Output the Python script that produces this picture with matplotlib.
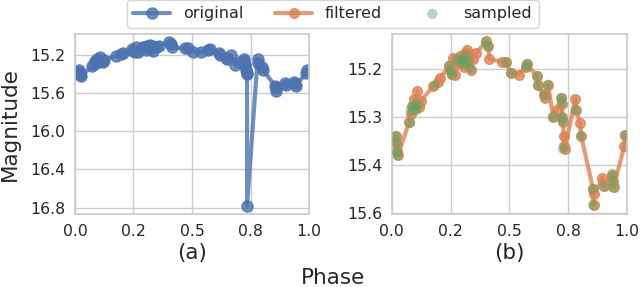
import matplotlib
matplotlib.use("Agg")
import matplotlib.pyplot as plt
import seaborn as sns
import numpy as np

sns.set_theme(style="whitegrid")
plt.rcParams["font.family"] = ["DejaVu Sans"]

# filtered light curve (phase-folded)
phase_filt = [0.015, 0.018, 0.020, 0.022, 0.026, 0.075, 0.080, 0.085, 0.090, 0.095,
              0.100, 0.105, 0.108, 0.112, 0.118, 0.125, 0.175, 0.195, 0.205, 0.245,
              0.250, 0.255, 0.262, 0.270, 0.285, 0.290, 0.300, 0.305, 0.310, 0.315,
              0.320, 0.325, 0.330, 0.335, 0.345, 0.360, 0.400, 0.410, 0.415, 0.470,
              0.485, 0.505, 0.540, 0.570, 0.575, 0.615, 0.620, 0.645, 0.650, 0.665,
              0.685, 0.700, 0.720, 0.722, 0.725, 0.728, 0.730, 0.733, 0.735, 0.780,
              0.783, 0.800, 0.805, 0.855, 0.857, 0.860, 0.895, 0.900, 0.935, 0.940,
              0.942, 0.988, 0.990]
mag_filt = [15.375, 15.360, 15.385, 15.405, 15.420, 15.315, 15.290, 15.265, 15.280, 15.245,
            15.270, 15.255, 15.218, 15.260, 15.270, 15.250, 15.205, 15.190, 15.180, 15.140,
            15.155, 15.165, 15.115, 15.170, 15.130, 15.110, 15.120, 15.145, 15.100, 15.125,
            15.090, 15.130, 15.105, 15.155, 15.120, 15.100, 15.065, 15.080, 15.120, 15.128,
            15.130, 15.162, 15.168, 15.145, 15.135, 15.173, 15.200, 15.230, 15.240, 15.200,
            15.300, 15.277, 15.240, 15.260, 15.300, 15.315, 15.360, 15.390, 15.400, 15.243,
            15.280, 15.320, 15.360, 15.525, 15.575, 15.540, 15.490, 15.515, 15.480, 15.500,
            15.520, 15.390, 15.358]

# original curve = filtered + one outlier
outlier_phase = 0.735
outlier_mag = 16.78

# sampled points
phase_samp = [0.018, 0.020, 0.022, 0.026, 0.078, 0.080, 0.090, 0.100, 0.105, 0.110,
              0.183, 0.245, 0.250, 0.255, 0.280, 0.290, 0.300, 0.310, 0.315, 0.325,
              0.335, 0.400, 0.410, 0.487, 0.508, 0.572, 0.575, 0.619, 0.621, 0.648,
              0.664, 0.685, 0.723, 0.723, 0.724, 0.725, 0.727, 0.781, 0.805, 0.854,
              0.855, 0.900, 0.937, 0.940, 0.940, 0.990]
mag_samp = [15.360, 15.380, 15.410, 15.420, 15.319, 15.280, 15.270, 15.265, 15.280, 15.260,
            15.202, 15.140, 15.160, 15.170, 15.120, 15.130, 15.120, 15.135, 15.110, 15.125,
            15.150, 15.067, 15.080, 15.131, 15.163, 15.144, 15.135, 15.173, 15.202, 15.235,
            15.200, 15.300, 15.241, 15.255, 15.303, 15.312, 15.400, 15.279, 15.360, 15.525,
            15.574, 15.517, 15.477, 15.500, 15.520, 15.358]

x_ticks = [0.0, 0.25, 0.5, 0.75, 1.0]
x_labels = ["0.0", "0.2", "0.5", "0.8", "1.0"]
y_ticks_a = [15.2, 15.6, 16.0, 16.4, 16.8]
y_labels_a = ["15.2", "15.6", "16.0", "16.4", "16.8"]
y_ticks_b = [15.15, 15.30, 15.45, 15.60]
y_labels_b = ["15.2", "15.3", "15.4", "15.6"]

blue, orange, green = "#4C72B0", "#DD8452", "#55A868"

# build original series with the outlier inserted in phase order
idx = int(np.searchsorted(phase_filt, outlier_phase, side="right"))
phase_orig = phase_filt[:idx] + [outlier_phase] + phase_filt[idx:]
mag_orig = mag_filt[:idx] + [outlier_mag] + mag_filt[idx:]

fig = plt.figure(figsize=(6.4, 2.87), dpi=100)
ax1 = fig.add_axes([0.117, 0.254, 0.366, 0.626])
ax2 = fig.add_axes([0.612, 0.254, 0.368, 0.626])

l1, = ax1.plot(phase_orig, mag_orig, "o-", color=blue, lw=3, ms=8, alpha=0.8, label="original")
l2, = ax2.plot(phase_filt, mag_filt, "o-", color=orange, lw=3, ms=7, alpha=0.8, label="filtered")
s3 = ax2.scatter(phase_samp, mag_samp, s=55, color=green, alpha=0.45, edgecolors="none",
                 label="sampled", zorder=3)

ax1.set_ylim(16.868, 14.983)
ax2.set_ylim(15.603, 15.043)

for ax, yt, yl, lab in [(ax1, y_ticks_a, y_labels_a, "(a)"), (ax2, y_ticks_b, y_labels_b, "(b)")]:
    ax.set_xlim(0, 1)
    ax.set_xticks(x_ticks)
    ax.set_xticklabels(x_labels)
    ax.set_yticks(yt)
    ax.set_yticklabels(yl)
    ax.tick_params(labelsize=11.3, length=0, pad=7, colors="0.15")
    ax.set_xlabel(lab, fontsize=15.5, labelpad=3, color="0.15")
    for sp in ax.spines.values():
        sp.set_color("0.8")
        sp.set_linewidth(1.25)
    ax.grid(True, color="0.8", lw=1)

ax1.set_ylabel("Magnitude", fontsize=15.5, color="0.15")
ax1.yaxis.set_label_coords(-0.235, 0.5)

fig.text(0.52, 0.031, "Phase", ha="center", va="center", fontsize=15.5, color="0.15")

fig.legend([l1, l2, s3], ["original", "filtered", "sampled"], loc="upper center",
           bbox_to_anchor=(0.52, 1.012), ncol=3, fontsize=11.5, frameon=True,
           handlelength=2.3, borderaxespad=0.2)

fig.savefig("out.png", dpi=100)
